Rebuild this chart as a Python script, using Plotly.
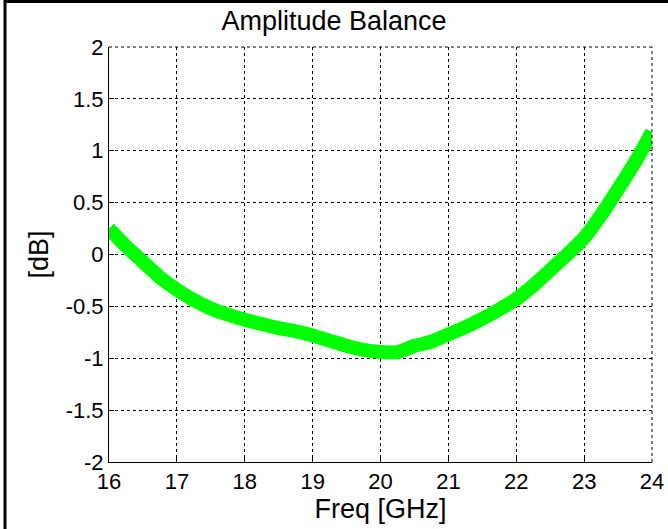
import plotly.graph_objects as go

freq = [16.00, 16.25, 16.50, 16.75, 17.00, 17.25, 17.50, 17.75, 18.00, 18.25,
        18.50, 18.75, 19.00, 19.25, 19.50, 19.75, 20.00, 20.25, 20.50, 20.75,
        21.00, 21.25, 21.50, 21.75, 22.00, 22.25, 22.50, 22.75, 23.00, 23.25,
        23.50, 23.75, 24.00]
balance_db = [0.25, 0.08, -0.07, -0.22, -0.34, -0.44, -0.52, -0.58, -0.63, -0.67,
              -0.71, -0.74, -0.78, -0.83, -0.88, -0.92, -0.94, -0.94, -0.88, -0.84,
              -0.77, -0.70, -0.62, -0.53, -0.43, -0.30, -0.15, 0.00, 0.16, 0.38,
              0.63, 0.89, 1.18]
x_ticks = [16, 17, 18, 19, 20, 21, 22, 23, 24]
y_ticks = [-2, -1.5, -1, -0.5, 0, 0.5, 1, 1.5, 2]
y_tick_labels = ["-2", "-1.5", "-1", "-0.5", "0", "0.5", "1", "1.5", "2"]

FONT = "Liberation Sans, Arial, sans-serif"

fig = go.Figure()
fig.add_trace(go.Scatter(
    x=freq, y=balance_db, mode="lines",
    line=dict(color="#00FF00", width=14, shape="spline", smoothing=0.6),
    showlegend=False, hoverinfo="x+y",
))

axis_common = dict(
    showgrid=True, gridcolor="black", gridwidth=1, griddash="dot",
    zeroline=False, showline=True, linecolor="black", linewidth=1,
    ticks="inside", ticklen=5, tickcolor="black", automargin=False,
    tickfont=dict(family=FONT, size=22, color="black"),
)

fig.update_layout(
    width=668, height=529,
    margin=dict(l=109, r=16, t=47, b=67),
    paper_bgcolor="white", plot_bgcolor="white",
    title=dict(text="Amplitude Balance", x=0.5, xanchor="center",
               y=1 - 21 / 529, yanchor="middle",
               font=dict(family=FONT, size=27, color="black")),
    xaxis=dict(range=[16, 24], tickvals=x_ticks,
               title=dict(text="Freq [GHz]", standoff=2,
                          font=dict(family=FONT, size=27, color="black")),
               **axis_common),
    yaxis=dict(range=[-2, 2], tickvals=y_ticks, ticktext=y_tick_labels,
               title=dict(text="[dB]", standoff=9,
                          font=dict(family=FONT, size=27, color="black")),
               **axis_common),
    shapes=[
        # dotted top and right box edges
        dict(type="line", xref="paper", yref="paper", x0=0, x1=1, y0=1, y1=1,
             line=dict(color="black", width=1, dash="dot")),
        dict(type="line", xref="paper", yref="paper", x0=1, x1=1, y0=0, y1=1,
             line=dict(color="black", width=1, dash="dot")),
        # outer figure border (left and top)
        dict(type="line", xref="paper", yref="paper", x0=-0.1915, x1=-0.1915,
             y0=-0.17, y1=1.115, line=dict(color="black", width=3)),
        dict(type="line", xref="paper", yref="paper", x0=-0.1915, x1=1.04,
             y0=1.1096, y1=1.1096, line=dict(color="black", width=3)),
    ],
)

fig.write_html("out.html",
               config={"displayModeBar": False},
               post_script="document.body.style.margin='0';document.body.style.overflow='hidden';")
